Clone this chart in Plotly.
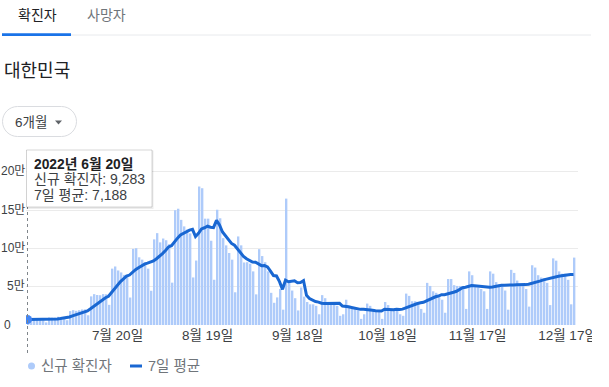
import pandas as pd
import plotly.graph_objects as go

# ---------------- data ----------------
dates = pd.date_range("2022-06-20", "2022-12-19", freq="D")

# daily new cases (thousands)
new_cases_k = [
    9.28, 9.31, 7.5, 7.22, 6.24, 6.07, 3.42, 9.9, 9.6, 9.53,
    10.72, 10.06, 9.53, 6.25, 18.15, 19.37, 18.51, 19.32, 20.29, 20.41,
    12.69, 37.36, 40.27, 39.2, 38.88, 40.34, 40.06, 26.3, 73.58, 76.4,
    71.17, 68.63, 65.43, 65.37, 35.88, 99.33, 100.29, 88.38, 85.32, 81.99,
    73.59, 44.69, 111.79, 119.92, 107.89, 112.9, 110.67, 105.51, 55.29, 149.9,
    151.79, 137.24, 128.71, 124.59, 119.6, 62.08, 84.13, 180.8, 178.57, 138.81,
    138.82, 110.0, 59.05, 150.5, 139.34, 113.37, 103.96, 94.0, 85.3, 42.72,
    115.62, 104.0, 81.6, 82.0, 80.0, 70.0, 40.0, 99.0, 90.0, 82.0,
    70.0, 42.0, 29.0, 36.0, 47.0, 20.0, 165.0, 56.0, 45.0, 35.0,
    19.0, 49.0, 37.0, 30.0, 27.0, 27.0, 25.0, 14.0, 39.0, 35.0,
    30.0, 29.0, 28.0, 25.0, 12.0, 14.0, 33.0, 25.0, 23.0, 21.0,
    19.0, 8.0, 14.0, 28.0, 25.0, 19.0, 17.0, 17.0, 8.0, 30.0,
    26.0, 21.0, 21.0, 21.0, 14.0, 12.0, 41.0, 38.0, 31.0, 31.0,
    29.0, 21.0, 16.0, 55.0, 51.0, 44.0, 42.0, 36.0, 33.0, 16.0,
    60.0, 60.0, 52.0, 51.0, 51.0, 50.0, 21.0, 70.0, 65.0, 50.0,
    49.0, 47.0, 44.0, 21.0, 70.0, 67.0, 56.0, 53.0, 52.0, 45.0,
    20.0, 72.0, 68.0, 58.0, 52.0, 52.0, 47.0, 24.0, 78.0, 75.0,
    65.0, 62.0, 61.0, 55.0, 26.0, 87.0, 84.0, 70.0, 67.0, 67.0,
    59.0, 27.0, 88.0,
]

# 7-day average (thousands)
avg7_k = [
    7.19, 7.24, 7.2, 7.12, 7.05, 7.02, 7.0, 7.09, 7.13, 7.41,
    7.91, 8.47, 8.96, 9.37, 10.54, 11.94, 13.23, 14.46, 15.91, 17.47,
    18.39, 21.14, 24.13, 27.09, 29.89, 32.74, 35.56, 37.5, 42.67, 47.83,
    52.4, 56.64, 60.23, 63.84, 65.21, 68.89, 72.3, 74.76, 77.14, 79.51,
    80.69, 81.94, 83.73, 86.53, 89.31, 93.26, 97.36, 101.91, 103.43, 108.87,
    113.43, 117.61, 119.87, 121.86, 123.87, 124.84, 115.44, 119.59, 125.5, 126.94,
    128.97, 127.6, 127.16, 136.64, 130.71, 121.4, 116.43, 110.03, 106.5, 104.17,
    99.19, 94.14, 89.6, 86.46, 84.46, 82.27, 81.89, 79.51, 77.51, 77.57,
    75.86, 70.43, 64.57, 64.0, 56.57, 46.57, 58.43, 56.43, 56.86, 57.71,
    55.29, 55.57, 58.0, 38.71, 34.57, 32.0, 30.57, 29.86, 28.43, 28.14,
    28.14, 28.43, 28.57, 28.57, 28.29, 24.71, 24.43, 23.71, 22.86, 21.86,
    21.0, 20.43, 20.43, 19.71, 19.71, 19.14, 18.57, 18.29, 18.29, 20.57,
    20.29, 19.71, 20.0, 20.57, 20.14, 20.71, 22.29, 24.0, 25.43, 26.86,
    28.0, 29.0, 29.57, 31.57, 33.43, 35.29, 36.86, 37.86, 39.57, 39.57,
    40.29, 41.57, 42.71, 44.0, 46.14, 48.57, 49.29, 50.71, 51.43, 51.14,
    50.86, 50.29, 49.43, 49.43, 49.43, 49.71, 50.57, 51.14, 51.86, 52.0,
    51.86, 52.14, 52.29, 52.57, 52.43, 52.43, 52.71, 53.29, 54.14, 55.14,
    56.14, 57.57, 58.86, 60.0, 60.29, 61.57, 62.86, 63.57, 64.29, 65.14,
    65.71, 65.86, 66.0,
]

x_tick_dates = ["2022-07-20", "2022-08-19", "2022-09-18", "2022-10-18", "2022-11-17", "2022-12-17"]
x_tick_labels = ["7월 20일", "8월 19일", "9월 18일", "10월 18일", "11월 17일", "12월 17일"]
y_tick_vals = [0, 50, 100, 150, 200]
y_tick_labels = ["0", "5만", "10만", "15만", "20만"]
series_names = ["신규 확진자", "7일 평균"]
tabs = ["확진자", "사망자"]
region = "대한민국"
period = "6개월"
tooltip_title = "2022년 6월 20일"
tooltip_new = "9,283"
tooltip_avg = "7,188"

# ---------------- layout helpers ----------------
W, H = 609, 387
L, R, T, B = 26, 31, 165, 62
PW = W - L - R
PH = H - T - B
PX_PER_K = 0.766


def px(x):
    return (x - L) / PW


def py(y):
    return (H - B - y) / PH


FONT = "'Liberation Sans', 'Noto Sans CJK KR', sans-serif"
BAR = "#aecbfa"
LINE = "#1967d2"
DAY_MS = 86400000

fig = go.Figure()
fig.add_bar(
    x=dates, y=new_cases_k, name=series_names[0],
    marker=dict(color=BAR, line=dict(width=0)),
    width=0.62 * DAY_MS, offset=0,
)
fig.add_scatter(
    x=dates, y=avg7_k, name=series_names[1], mode="lines",
    line=dict(color=LINE, width=3),
)
fig.add_scatter(
    x=[dates[0]], y=[avg7_k[0]], mode="markers",
    marker=dict(size=9, color="#4285f4"), showlegend=False,
)

annotations = []
shapes = []


def text(x, y, s, size, color, anchor="left", bold=False):
    annotations.append(dict(
        xref="paper", yref="paper", x=px(x), y=py(y), text=f"<b>{s}</b>" if bold else s,
        showarrow=False, xanchor=anchor, yanchor="middle",
        font=dict(family=FONT, size=size, color=color), borderpad=0,
    ))


def rr_path(x0, y0, x1, y1, r):
    k = 0.5523 * r
    pts = lambda X, Y: f"{px(X)},{py(Y)}"
    return (
        f"M{pts(x0 + r, y0)} L{pts(x1 - r, y0)} "
        f"C{pts(x1 - r + k, y0)} {pts(x1, y0 + r - k)} {pts(x1, y0 + r)} "
        f"L{pts(x1, y1 - r)} "
        f"C{pts(x1, y1 - r + k)} {pts(x1 - r + k, y1)} {pts(x1 - r, y1)} "
        f"L{pts(x0 + r, y1)} "
        f"C{pts(x0 + r - k, y1)} {pts(x0, y1 - r + k)} {pts(x0, y1 - r)} "
        f"L{pts(x0, y0 + r)} "
        f"C{pts(x0, y0 + r - k)} {pts(x0 + r - k, y0)} {pts(x0 + r, y0)} Z"
    )


# tabs
text(16.5, 15, tabs[0], 14, "#202124")
text(86, 15, tabs[1], 14, "#70757a")
shapes.append(dict(type="line", xref="paper", yref="paper", x0=px(2), x1=px(591), y0=py(35), y1=py(35),
                   line=dict(color="#e8eaed", width=1)))
shapes.append(dict(type="rect", xref="paper", yref="paper", x0=px(2), x1=px(71), y0=py(36), y1=py(33.2),
                   fillcolor="#1a73e8", line=dict(width=0)))

# region title
text(3, 70.5, region, 18, "#202124")

# period pill
shapes.append(dict(type="path", xref="paper", yref="paper", path=rr_path(2.5, 106.5, 76.5, 136.5, 15),
                   fillcolor="white", line=dict(color="#dadce0", width=1)))
text(14, 122, period, 13.5, "#3c4043")
shapes.append(dict(type="path", xref="paper", yref="paper",
                   path=f"M{px(55)},{py(120.5)} L{px(62)},{py(120.5)} L{px(58.5)},{py(124.5)} Z",
                   fillcolor="#5f6368", line=dict(width=0)))

# y tick labels (data coordinates)
for v, lab in zip(y_tick_vals, y_tick_labels):
    annotations.append(dict(
        xref="paper", yref="y", x=px(3) if v == 0 else px(25.5), y=v + 0.6,
        text=lab, showarrow=False, xanchor="left" if v == 0 else "right", yanchor="middle",
        font=dict(family=FONT, size=12, color="#3c4043"), borderpad=0,
    ))

# hover guide line
shapes.append(dict(type="line", xref="x", yref="paper", x0=dates[0], x1=dates[0], y0=py(353), y1=py(207),
                   line=dict(color="#80868b", width=1, dash="dot"), layer="above"))

# tooltip
shapes.append(dict(type="rect", xref="paper", yref="paper", x0=px(26.5), x1=px(153.5), y0=py(209), y1=py(150.5),
                   fillcolor="rgba(0,0,0,0.07)", line=dict(width=0), layer="above"))
shapes.append(dict(type="rect", xref="paper", yref="paper", x0=px(26.5), x1=px(152), y0=py(207), y1=py(150),
                   fillcolor="white", line=dict(color="rgba(0,0,0,0.16)", width=1), layer="above"))
text(33, 163.5, tooltip_title, 13.8, "#202124", bold=True)
text(33, 179, f"{series_names[0]}: {tooltip_new}", 14, "#3c4043")
text(33, 194.5, f"{series_names[1]}: {tooltip_avg}", 14, "#3c4043")

# legend
shapes.append(dict(type="circle", xref="paper", yref="paper", x0=px(28), x1=px(35), y0=py(369.5), y1=py(362.5),
                   fillcolor=BAR, line=dict(width=0)))
text(39.5, 366, series_names[0], 14.5, "#70757a")
shapes.append(dict(type="line", xref="paper", yref="paper", x0=px(130), x1=px(142), y0=py(366), y1=py(366),
                   line=dict(color=LINE, width=3)))
text(147, 366, series_names[1], 14.5, "#70757a")

# container clip on the right
shapes.append(dict(type="rect", xref="paper", yref="paper", x0=px(592), x1=px(612), y0=py(390), y1=py(300),
                   fillcolor="white", line=dict(width=0), layer="above"))

fig.update_layout(
    width=W, height=H,
    margin=dict(l=L, r=R, t=T, b=B, pad=0),
    paper_bgcolor="white", plot_bgcolor="white",
    showlegend=False, hovermode=False,
    font=dict(family=FONT),
    xaxis=dict(
        type="date", range=["2022-06-19 12:00", "2022-12-20 12:00"],
        tickvals=x_tick_dates, ticktext=x_tick_labels,
        showgrid=False, zeroline=False, showline=False, ticks="",
        tickfont=dict(family=FONT, size=13.5, color="#3c4043"),
    ),
    yaxis=dict(
        range=[0, PH / PX_PER_K], tickvals=y_tick_vals, showticklabels=False,
        showgrid=True, gridcolor="#ebebeb", gridwidth=1, zeroline=False, ticks="",
    ),
    annotations=annotations,
    shapes=shapes,
)

fig.write_html(
    "out.html",
    config={"displayModeBar": False},
    post_script="document.body.style.margin='0px';document.body.style.overflow='hidden';",
)
